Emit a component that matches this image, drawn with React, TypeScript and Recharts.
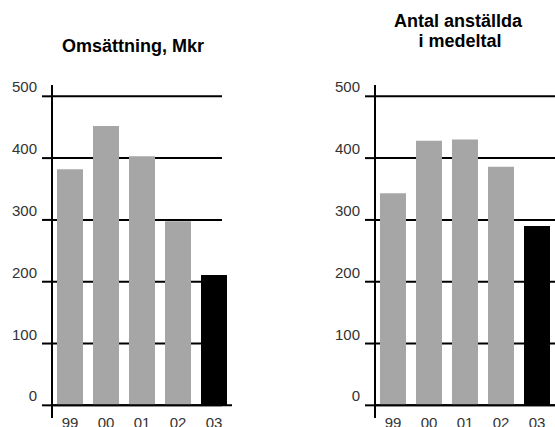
import React from 'react';
import { BarChart, Bar, XAxis, YAxis, CartesianGrid, ReferenceLine, Cell } from 'recharts';

const years = ['99', '00', '01', '02', '03'];
const omsattning = [382, 452, 403, 298, 211];
const anstallda = [343, 428, 430, 386, 290];
const yTicks = [0, 100, 200, 300, 400, 500];

const FONT = '"Liberation Sans", Arial, Helvetica, sans-serif';
const GRAY = '#a6a6a6';

type PanelProps = {
  values: number[];
  axisX: number;
  gridTrim: number;
};

function Panel({ values, axisX, gridTrim }: PanelProps) {
  const data = years.map((y, i) => ({ year: y, value: values[i] }));
  const plotW = 180;
  const right = 555 - axisX - plotW;
  return (
    <div style={{ position: 'absolute', left: 0, top: 0 }}>
      <BarChart
        width={555}
        height={427}
        data={data}
        margin={{ top: 85, right: right, bottom: 0, left: 0 }}
        barSize={26}
      >
        <CartesianGrid
          vertical={false}
          syncWithTicks={true}
          stroke="#000"
          strokeWidth={2}
          horizontal={(p: any) => (
            <line
              key={p.key}
              x1={p.x1}
              y1={p.y1}
              x2={p.x2 - gridTrim}
              y2={p.y2}
              stroke="#000"
              strokeWidth={2}
            />
          )}
        />
        <XAxis
          dataKey="year"
          type="category"
          height={9}
          axisLine={false}
          tickLine={false}
          tickSize={0}
          tickMargin={0}
          interval={0}
          tick={(p: any) => (
            <text
              key={p.index}
              x={p.x}
              y={p.y + 10}
              textAnchor="middle"
              fontFamily={FONT}
              fontSize={15}
              fill="#333"
            >
              {p.payload.value}
            </text>
          )}
        />
        <YAxis
          type="number"
          width={axisX}
          domain={[-20.5, 518.3]}
          ticks={yTicks}
          interval={0}
          tickSize={10}
          tickMargin={5}
          axisLine={{ stroke: '#000', strokeWidth: 2 }}
          tickLine={{ stroke: '#000', strokeWidth: 2 }}
          tick={(p: any) => (
            <text
              key={p.index}
              x={p.x}
              y={p.y - 4}
              textAnchor="end"
              fontFamily={FONT}
              fontSize={15}
              fill="#333"
            >
              {p.payload.value}
            </text>
          )}
        />
        <Bar dataKey="value" isAnimationActive={false}>
          {data.map((d, i) => (
            <Cell key={d.year} fill={i === data.length - 1 ? '#000' : GRAY} />
          ))}
        </Bar>
        <ReferenceLine y={0} stroke="#000" strokeWidth={2} ifOverflow="extendDomain" />
      </BarChart>
    </div>
  );
}

export default function App() {
  return (
    <div style={{ position: 'absolute', left: 0, top: 0, width: 555, height: 427, background: '#fff', overflow: 'hidden' }}>
      <Panel values={omsattning} axisX={52} gridTrim={10} />
      <Panel values={anstallda} axisX={375} gridTrim={0} />
      <svg
        width={555}
        height={427}
        style={{ position: 'absolute', left: 0, top: 0, pointerEvents: 'none' }}
      >
        <g fontFamily={FONT} fontSize={18} fontWeight="bold" fill="#000" textAnchor="middle">
          <text x={133} y={52}>Omsättning, Mkr</text>
          <text x={458} y={27}>Antal anställda</text>
          <text x={460} y={47}>i medeltal</text>
        </g>
      </svg>
    </div>
  );
}
